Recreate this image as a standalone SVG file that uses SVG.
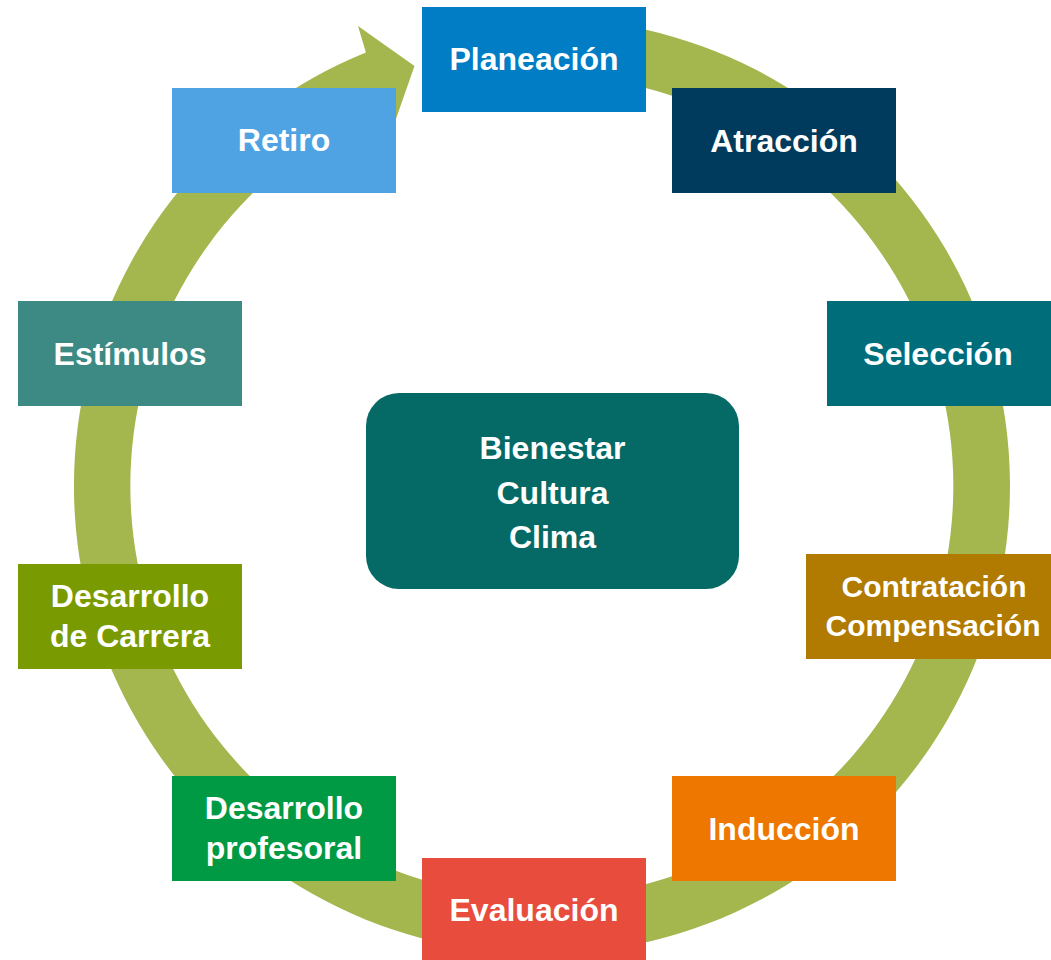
<svg xmlns="http://www.w3.org/2000/svg" width="1051" height="960" viewBox="0 0 1051 960">
<style>
.t{font-family:"Liberation Sans",Arial,sans-serif;font-weight:bold;font-size:32px;fill:#ffffff;text-anchor:middle}
.s{font-size:30px}
</style>
<rect width="1051" height="960" fill="#ffffff"/>
<g id="connectors">
<path id="cycle-arrow" d="M 501.2 19.8 A 468 468 0 1 1 365.9 52.4 L 358 26 L 414.5 66 L 391 133 L 387.2 104.7 A 411.5 411.5 0 1 0 506.1 76.1 Z" fill="#A3B74E"/>
</g>
<g id="planeacion"><rect x="422" y="7" width="224" height="105" fill="#007DC5"/><text class="t" x="534" y="70">Planeación</text></g>
<g id="atraccion"><rect x="672" y="88" width="224" height="105" fill="#003A5D"/><text class="t" x="784" y="152">Atracción</text></g>
<g id="seleccion"><rect x="827" y="301" width="224" height="105" fill="#006D7A"/><text class="t" x="938" y="365">Selección</text></g>
<g id="contratacion"><rect x="806" y="554" width="245" height="105" fill="#B17A00"/><text class="t s" x="934" y="597">Contratación</text><text class="t s" x="933" y="636">Compensación</text></g>
<g id="induccion"><rect x="672" y="776" width="224" height="105" fill="#EE7700"/><text class="t" x="784" y="840">Inducción</text></g>
<g id="evaluacion"><rect x="422" y="858" width="224" height="102" fill="#E84C3D"/><text class="t" x="534" y="921">Evaluación</text></g>
<g id="desarrollo-profesoral"><rect x="172" y="776" width="224" height="105" fill="#009A44"/><text class="t" x="284" y="819">Desarrollo</text><text class="t" x="284" y="859">profesoral</text></g>
<g id="desarrollo-carrera"><rect x="18" y="564" width="224" height="105" fill="#7A9A01"/><text class="t" x="130" y="607">Desarrollo</text><text class="t" x="130" y="647">de Carrera</text></g>
<g id="estimulos"><rect x="18" y="301" width="224" height="105" fill="#3D8A84"/><text class="t" x="130" y="365">Estímulos</text></g>
<g id="retiro"><rect x="172" y="88" width="224" height="105" fill="#4FA3E2"/><text class="t" x="284" y="151">Retiro</text></g>
<g id="centro"><rect x="366" y="393" width="373" height="196" rx="33" ry="33" fill="#056A66"/><text class="t" x="552.5" y="459">Bienestar</text><text class="t" x="552.5" y="504">Cultura</text><text class="t" x="552.5" y="548">Clima</text></g>
</svg>
